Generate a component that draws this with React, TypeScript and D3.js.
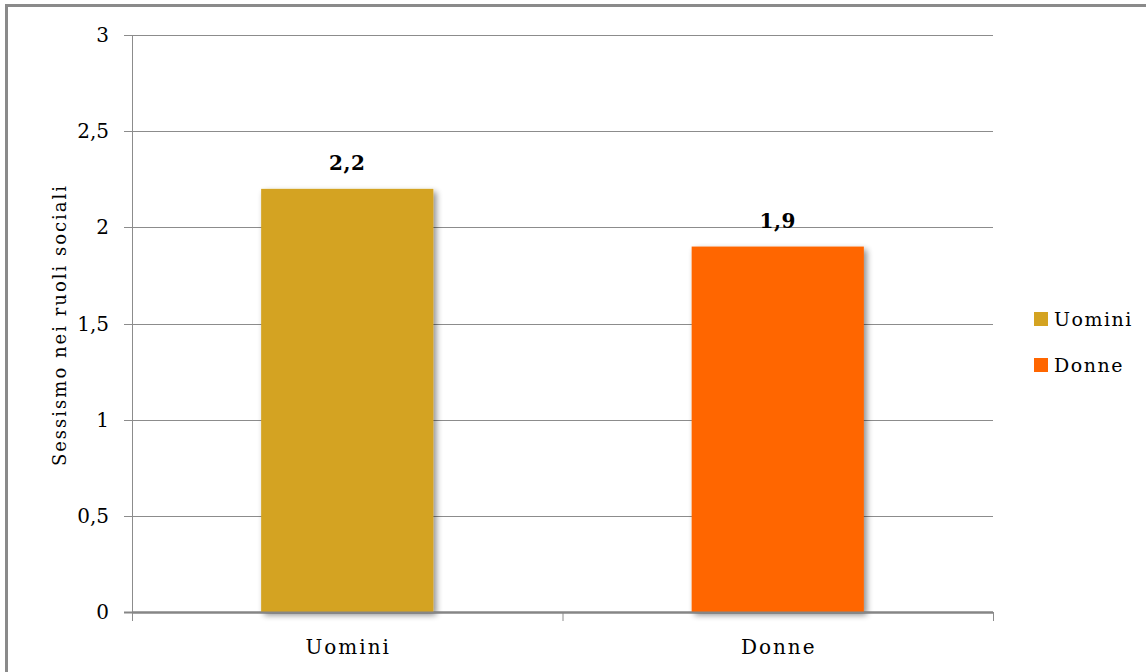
import React from "react";
import * as d3 from "d3";

const categories = ["Uomini", "Donne"];
const values = [2.2, 1.9];
const valueLabels = ["2,2", "1,9"];
const colors = ["#D4A321", "#FF6600"];
const yTicks = [0, 0.5, 1, 1.5, 2, 2.5, 3];
const yTickLabels = ["0", "0,5", "1", "1,5", "2", "2,5", "3"];
const yTitle = "Sessismo nei ruoli sociali";

const W = 1146;
const H = 672;
const plot = { left: 132, right: 993, top: 35, bottom: 612 };
const FONT = "'DejaVu Serif', 'Liberation Serif', serif";

export default function App() {
  const x = d3
    .scaleBand<string>()
    .domain(categories)
    .range([plot.left, plot.right])
    .paddingInner(0.6)
    .paddingOuter(0.3);
  const xb = d3.scaleBand<string>().domain(categories).range([plot.left, plot.right]);
  const y = d3.scaleLinear().domain([0, 3]).range([plot.bottom, plot.top]);

  const boundaries = [plot.left, ...categories.map((c) => (xb(c) as number) + xb.bandwidth())];

  return (
    <svg
      width={W}
      height={H}
      style={{ position: "absolute", left: 0, top: 0, background: "#fff" }}
    >
      <defs>
        <filter id="shadow" x="-10%" y="-10%" width="130%" height="130%">
          <feGaussianBlur in="SourceAlpha" stdDeviation="3" />
          <feOffset dx="3" dy="3" result="ob" />
          <feComponentTransfer>
            <feFuncA type="linear" slope="0.45" />
          </feComponentTransfer>
          <feMerge>
            <feMergeNode />
            <feMergeNode in="SourceGraphic" />
          </feMerge>
        </filter>
      </defs>
      <rect x={0} y={0} width={W} height={H} fill="#fff" />
      {/* outer frame */}
      <line x1={6.5} y1={5} x2={6.5} y2={H} stroke="#8a8a8a" strokeWidth={3} />
      <line x1={5} y1={5.5} x2={W} y2={5.5} stroke="#8a8a8a" strokeWidth={3} />

      {/* gridlines */}
      {yTicks.map((t, i) => (
        <g key={i}>
          <line
            x1={plot.left - 8}
            x2={plot.right}
            y1={Math.round(y(t)) + 0.5}
            y2={Math.round(y(t)) + 0.5}
            stroke={t === 0 ? "#868686" : "#8c8c8c"}
            strokeWidth={t === 0 ? 2 : 1}
          />
          <text
            x={plot.left - 23}
            y={y(t)}
            dy="0.35em"
            textAnchor="end"
            fontFamily={FONT}
            fontSize={20}
            fill="#000"
          >
            {yTickLabels[i]}
          </text>
        </g>
      ))}
      {/* y axis */}
      <line x1={plot.left + 0.5} x2={plot.left + 0.5} y1={plot.top} y2={plot.bottom + 8} stroke="#8c8c8c" />
      {/* x ticks */}
      {boundaries.map((bx, i) => (
        <line key={i} x1={bx + 0.5} x2={bx + 0.5} y1={plot.bottom} y2={plot.bottom + 9} stroke="#8c8c8c" />
      ))}

      {/* bars */}
      {categories.map((c, i) => {
        const bx = x(c) as number;
        const top = y(values[i]);
        return (
          <g key={c}>
            <rect
              x={bx}
              y={top}
              width={x.bandwidth()}
              height={plot.bottom - top}
              fill={colors[i]}
              filter="url(#shadow)"
            />
            <text
              x={bx + x.bandwidth() / 2}
              y={top - 26}
              dy="0.35em"
              textAnchor="middle"
              fontFamily={FONT}
              fontSize={20}
              fontWeight="bold"
              letterSpacing={0.5}
              fill="#000"
            >
              {valueLabels[i]}
            </text>
            <text
              x={(xb(c) as number) + xb.bandwidth() / 2 + 1}
              y={647}
              dy="0.35em"
              textAnchor="middle"
              fontFamily={FONT}
              fontSize={20}
              letterSpacing={2}
              fill="#000"
            >
              {c}
            </text>
          </g>
        );
      })}
      {/* redraw x axis line on top */}
      <line x1={plot.left} x2={plot.right} y1={plot.bottom + 0.5} y2={plot.bottom + 0.5} stroke="#868686" strokeWidth={2} />

      {/* y title */}
      <text
        transform={`translate(60,${325}) rotate(-90)`}
        textAnchor="middle"
        dy="0.35em"
        fontFamily={FONT}
        fontSize={18}
        letterSpacing={2}
        fill="#000"
      >
        {yTitle}
      </text>

      {/* legend */}
      {categories.map((c, i) => (
        <g key={c} transform={`translate(1034,${312 + i * 46})`}>
          <rect x={0} y={0} width={14} height={14} fill={colors[i]} />
          <text x={20} y={7} dy="0.35em" fontFamily={FONT} fontSize={19} letterSpacing={1.5} fill="#000">
            {c}
          </text>
        </g>
      ))}
    </svg>
  );
}
